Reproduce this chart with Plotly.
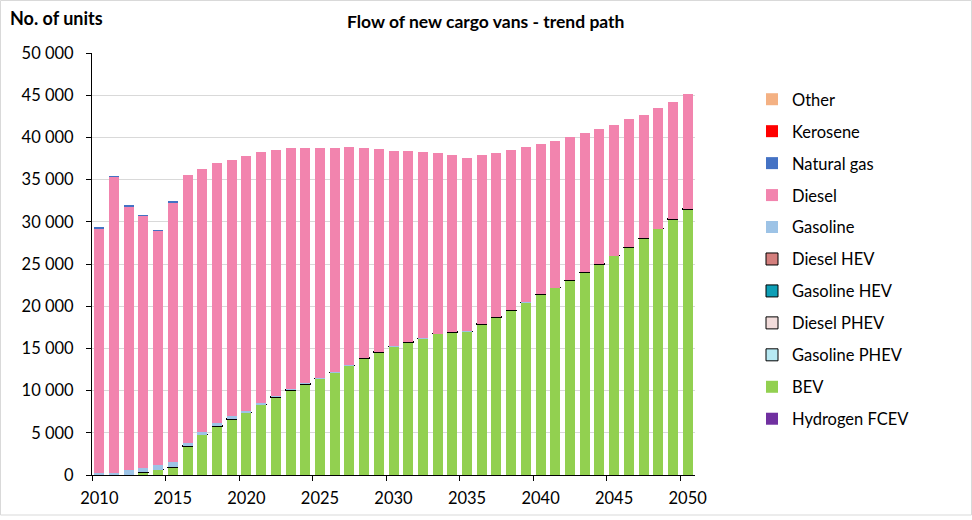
import plotly.graph_objects as go

years = list(range(2010, 2051))

bev = [0, 0, 50, 300, 600, 870, 3400, 4740, 5770, 6630, 7350, 8300, 9240, 10070, 10780,
       11410, 12160, 12990, 13860, 14570, 15200, 15720, 16190, 16710, 16940, 17020, 17890,
       18720, 19510, 20420, 21370, 22160, 23030, 24010, 25000, 25950, 26930, 28040, 29150,
       30330, 31480]
gasoline_phev = [None, None, None, 40, 40, 40, 40, 40, 40, 40, 40, 40, 40, 40, 40, 40, 40,
                 40, 40, 40, 40, 40, 40, 40, 40, 40, 40, 40, 40, 40, 40, 40, 40, 40, 40, 40,
                 40, 40, 40, 40, 40]
diesel_phev = [0] * 41
gasoline_hev = [0] * 41
diesel_hev = [0] * 41
hydrogen_fcev = [0] * 41
gasoline = [200, 250, 500, 500, 600, 600, 350, 300, 300, 280, 240, 150, 100, 80, 60, 40, 30,
            20, 20, 10, 10, 10, 10, 10, 5, 5, 5, 5, 5, 5, 0, 0, 0, 0, 0, 0, 0, 0, 0, 0, 0]
diesel = [29050, 35100, 31300, 29900, 27720, 30800, 31750, 31130, 30800, 30430, 30160, 29770,
          29080, 28500, 27810, 27210, 26470, 25770, 24780, 23970, 23100, 22580, 22030, 21350,
          20900, 20450, 19950, 19350, 18920, 18350, 17770, 17330, 16930, 16430, 15910, 15440,
          15170, 14610, 14250, 13790, 13580]
natural_gas = [50, 50, 50, 50, 40, 40] + [0] * 35
kerosene = [0] * 41
other = [0] * 41

FONT = "Lato"

series = [
    ("Hydrogen FCEV", hydrogen_fcev, "#7030a0", False),
    ("BEV", bev, "#92d050", False),
    ("Gasoline PHEV", gasoline_phev, "#b7e9f3", True),
    ("Diesel PHEV", diesel_phev, "#f2dcdb", True),
    ("Gasoline HEV", gasoline_hev, "#0e9fb6", True),
    ("Diesel HEV", diesel_hev, "#d47f7d", True),
    ("Gasoline", gasoline, "#9dc3e6", False),
    ("Diesel", diesel, "#f284ae", False),
    ("Natural gas", natural_gas, "#4472c4", False),
    ("Kerosene", kerosene, "#ff0000", False),
    ("Other", other, "#f4b183", False),
]

fig = go.Figure()
n = len(series)
for i, (name, vals, color, outlined) in enumerate(series):
    fig.add_trace(go.Bar(
        x=years, y=vals, name=name, legendgroup=f"g{i}", legendrank=1000 + (n - i),
        marker=dict(color=color,
                    line=dict(color="black" if outlined else color, width=1 if outlined else 0)),
    ))

L, R, T, B = 92, 695, 53, 475
W, H = 972, 520
pw, ph = R - L, B - T

def px_x(p):
    return (p - L) / pw

def px_y(p):
    return (B - p) / ph

fig.update_layout(
    width=W, height=H,
    barmode="stack", bargap=0.32,
    paper_bgcolor="white", plot_bgcolor="white",
    margin=dict(l=L, r=W - R, t=T, b=H - B),
    separators=". ",
    font=dict(family=FONT, size=16, color="black"),
    showlegend=True,
    legend=dict(traceorder="grouped", x=px_x(752), xanchor="left", y=px_y(82),
                yanchor="top", font=dict(family=FONT, size=16.5), tracegroupgap=7.5,
                itemwidth=30, bgcolor="rgba(0,0,0,0)"),
    xaxis=dict(range=[2009.5, 2050.5], tickmode="array", tickvals=list(range(2010, 2051, 5)),
               ticks="", showgrid=False, showline=True, linecolor="black", linewidth=1,
               tickfont=dict(family=FONT, size=16.5), ticklabelstandoff=8,
               minor=dict(tickmode="array", tickvals=[2009.5 + 5 * k for k in range(9)],
                          ticks="outside", ticklen=5, tickcolor="black", showgrid=False)),
    yaxis=dict(range=[0, 50000], tickmode="linear", tick0=0, dtick=5000, tickformat=",d",
               showgrid=True, gridcolor="#d9d9d9", gridwidth=1,
               showline=True, linecolor="black", linewidth=1, zeroline=False,
               ticks="outside", ticklen=5, tickcolor="black", ticklabelstandoff=9,
               tickfont=dict(family=FONT, size=16.5)),
    annotations=[
        dict(text="<b>No. of units</b>", xref="paper", yref="paper", x=px_x(8), y=px_y(18),
             xanchor="left", yanchor="middle", showarrow=False, font=dict(family=FONT, size=18)),
        dict(text="<b>Flow of new cargo vans - trend path</b>", xref="paper", yref="paper",
             x=px_x(486), y=px_y(22), xanchor="center", yanchor="middle", showarrow=False,
             font=dict(family=FONT, size=17.5)),
    ],
    shapes=[dict(type="rect", xref="paper", yref="paper", x0=px_x(0.5), x1=px_x(W - 0.5),
                 y0=px_y(515), y1=px_y(0.5), line=dict(color="#d9d9d9", width=1),
                 layer="below")],
)

fig.write_html("out.html", config={"displayModeBar": False},
               post_script="document.body.style.margin='0';document.body.style.overflow='hidden';")
